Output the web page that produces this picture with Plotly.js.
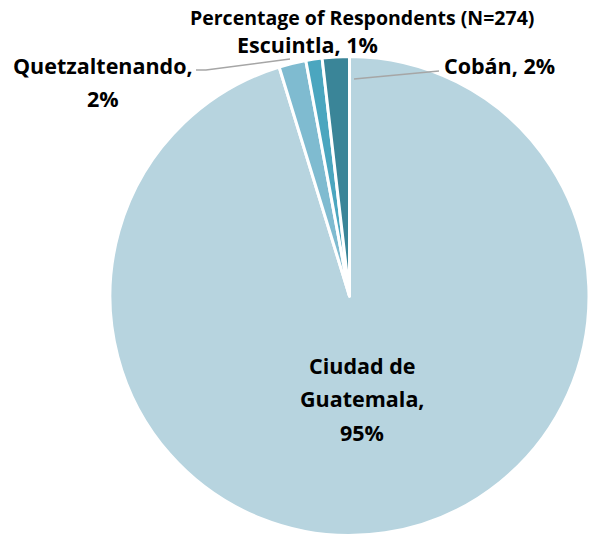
<!DOCTYPE html>
<html>
<head>
<meta charset="utf-8">
<script src="https://cdn.plot.ly/plotly-3.0.1.min.js"></script>
<style>html,body{margin:0;padding:0;background:#fff;}#chart{width:589px;height:537px;}</style>
</head>
<body>
<div id="chart"></div>
<script>
// Data (counts out of N=274)
const categories = ["Ciudad de Guatemala", "Quetzaltenando", "Escuintla", "Cobán"];
const counts = [261, 5, 3, 5];
const percentLabels = ["95%", "2%", "1%", "2%"];
const colors = ["#b7d4df", "#7fbbd0", "#4ba6bf", "#3a8598"];
const chartTitle = "Percentage of Respondents (N=274)";

const FONT = "'Open Sans', Lato, sans-serif";
const lblFont = {family: FONT, size: 21.5, color: "#000000"};

const trace = {
  type: "pie",
  labels: categories,
  values: counts,
  sort: false,
  direction: "clockwise",
  rotation: 0,
  marker: {colors: colors, line: {color: "#ffffff", width: 3}},
  textinfo: "none",
  hoverinfo: "label+percent",
  domain: {x: [110/589, 1], y: [0, (537-55)/537]},
  showlegend: false
};

const annotations = [
  {text: "<b>" + chartTitle + "</b>", x: 362/589, y: 1 - 17/537, font: {family: FONT, size: 19.5, color: "#000"}},
  {text: "<b>" + categories[2] + ", " + percentLabels[2] + "</b>", x: 307/589, y: 1 - 44/537, font: lblFont},
  {text: "<b>" + categories[3] + ", " + percentLabels[3] + "</b>", x: 499/589, y: 1 - 65/537, font: lblFont},
  {text: "<b>" + categories[1] + ",</b>", x: 103/589, y: 1 - 65/537, font: lblFont},
  {text: "<b>" + percentLabels[1] + "</b>", x: 103/589, y: 1 - 98/537, font: lblFont},
  {text: "<b>Ciudad de</b>", x: 362/589, y: 1 - 365/537, font: lblFont},
  {text: "<b>Guatemala,</b>", x: 362/589, y: 1 - 398/537, font: lblFont},
  {text: "<b>" + percentLabels[0] + "</b>", x: 362/589, y: 1 - 432/537, font: lblFont}
].map(a => Object.assign({xref: "paper", yref: "paper", showarrow: false, xanchor: "center", yanchor: "middle"}, a));

const lineStyle = {color: "#a6a6a6", width: 1.5};
const shapes = [
  {type: "path", xref: "paper", yref: "paper",
   path: "M " + (196/589) + " " + (1-70/537) + " L " + (206/589) + " " + (1-70/537) + " L " + (290/589) + " " + (1-59/537),
   line: lineStyle},
  {type: "line", xref: "paper", yref: "paper",
   x0: 354/589, y0: 1-79/537, x1: 439/589, y1: 1-71/537, line: lineStyle}
];

const layout = {
  width: 589, height: 537,
  margin: {l: 0, r: 0, t: 0, b: 0},
  paper_bgcolor: "#ffffff",
  plot_bgcolor: "#ffffff",
  annotations: annotations,
  shapes: shapes,
  showlegend: false
};

Plotly.newPlot("chart", [trace], layout, {displayModeBar: false, staticPlot: true});
</script>
</body>
</html>
